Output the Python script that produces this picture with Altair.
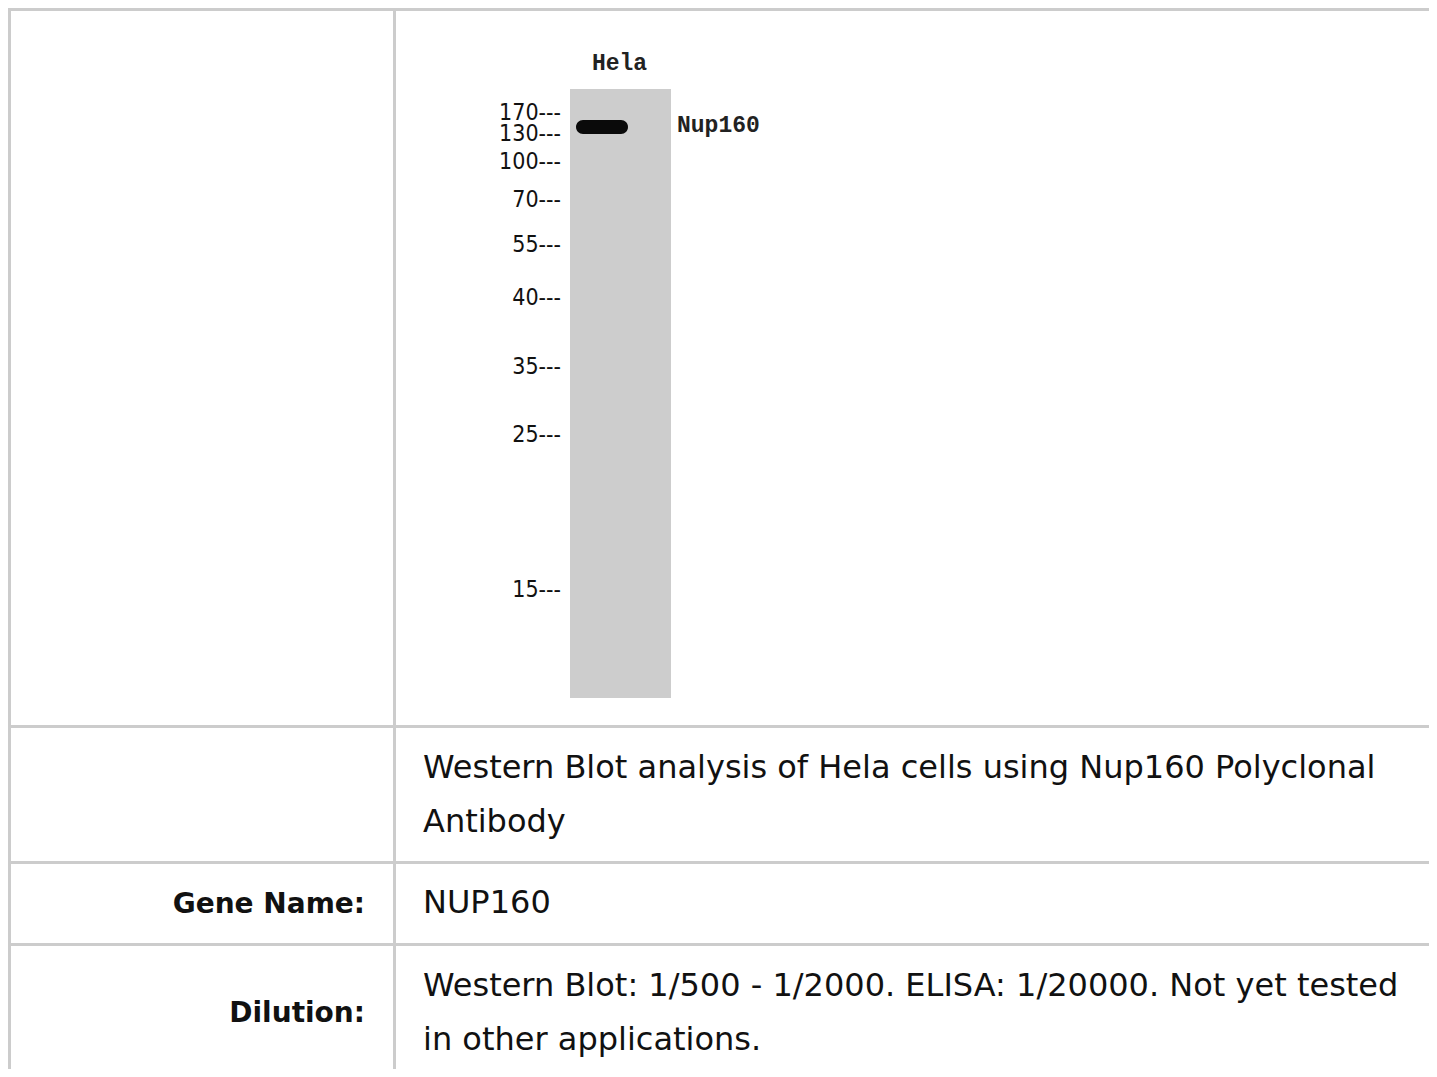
import altair as alt
import pandas as pd

# ---------------- data ----------------
W, H = 1421, 1061          # whole chart (page pixels 8..1429, 8..1069)
X0, X1 = 8, 8 + W
Y0, Y1 = 8, 8 + H

lane_label = ["Hela"]
target_label = ["Nup160"]
marker_kda = ["170", "130", "100", "70", "55", "40", "35", "25", "15"]
marker_pos = [113, 134, 162, 200, 245, 298, 367, 435, 590]   # migration position
band_pos = [127]                                               # Nup160 band

caption_lines = ["Western Blot analysis of Hela cells using Nup160 Polyclonal", "Antibody"]
field_labels = ["Gene Name:", "Dilution:"]
gene_lines = ["NUP160"]
dilution_lines = ["Western Blot: 1/500 - 1/2000. ELISA: 1/20000. Not yet tested",
                  "in other applications."]

# ---------------- layout ----------------
grid_h = [9.5, 726.5, 862.5, 944.5]
grid_v = [9.5, 394.5]
label_right = 365
value_left = 423
lane_x = (570, 671)
lane_y = (89, 698)
band_x = (576, 628)
band_half = 7
marker_right = 561

xs = alt.Scale(domain=[X0, X1], nice=False, zero=False)
ys = alt.Scale(domain=[Y0, Y1], nice=False, zero=False, reverse=True)


def X(f="x"):
    return alt.X(f"{f}:Q", scale=xs, axis=None)


def Y(f="y"):
    return alt.Y(f"{f}:Q", scale=ys, axis=None)


GRID = "#cccccc"

hlines = alt.Chart(pd.DataFrame({"y": grid_h, "x": X0, "x2": X1})).mark_rule(
    color=GRID, strokeWidth=3).encode(x=X(), x2="x2:Q", y=Y())

vlines = alt.Chart(pd.DataFrame({"x": grid_v, "y": Y0, "y2": Y1})).mark_rule(
    color=GRID, strokeWidth=3).encode(x=X(), y=Y(), y2="y2:Q")

lane = alt.Chart(pd.DataFrame({"x": [lane_x[0]], "x2": [lane_x[1]],
                               "y": [lane_y[0]], "y2": [lane_y[1]]})).mark_rect(
    color="#cdcdcd").encode(x=X(), x2="x2:Q", y=Y(), y2="y2:Q")

band_df = pd.DataFrame({"x": [band_x[0]], "x2": [band_x[1]],
                        "y": [band_pos[0] - band_half], "y2": [band_pos[0] + band_half]})
band = alt.Chart(band_df).mark_rect(color="#0a0a0a", cornerRadius=7).encode(
    x=X(), x2="x2:Q", y=Y(), y2="y2:Q")

markers = alt.Chart(pd.DataFrame({"t": [m + "---" for m in marker_kda],
                                  "y": marker_pos, "x": marker_right})).mark_text(
    font="Liberation Sans Narrow, DejaVu Sans Condensed, Liberation Sans",
    fontSize=23, align="right", baseline="middle", color="#111111").encode(
    x=X(), y=Y(), text="t:N")

hela = alt.Chart(pd.DataFrame({"t": lane_label, "x": [(lane_x[0] + lane_x[1]) / 2 - 1],
                               "y": [70]})).mark_text(
    font="Liberation Mono", fontSize=23, fontWeight="bold", align="center",
    baseline="alphabetic", color="#222222").encode(x=X(), y=Y(), text="t:N")

nup = alt.Chart(pd.DataFrame({"t": target_label, "x": [677], "y": [132]})).mark_text(
    font="Liberation Mono", fontSize=23, fontWeight="bold", align="left",
    baseline="alphabetic", color="#222222").encode(x=X(), y=Y(), text="t:N")

BODY = "DejaVu Sans"
caption = alt.Chart(pd.DataFrame({"t": caption_lines, "y": [778, 832],
                                  "x": value_left})).mark_text(
    font=BODY, fontSize=32, align="left", baseline="alphabetic", color="#111111").encode(
    x=X(), y=Y(), text="t:N")

labels = alt.Chart(pd.DataFrame({"t": field_labels, "y": [913, 1022],
                                 "x": label_right})).mark_text(
    font=BODY, fontSize=28, fontWeight="bold", align="right", baseline="alphabetic",
    color="#111111").encode(x=X(), y=Y(), text="t:N")

values = alt.Chart(pd.DataFrame({"t": gene_lines + dilution_lines, "y": [913, 996, 1050],
                                 "x": value_left})).mark_text(
    font=BODY, fontSize=32, align="left", baseline="alphabetic", color="#111111").encode(
    x=X(), y=Y(), text="t:N")

chart = alt.layer(hlines, vlines, lane, band, markers, hela, nup, caption, labels, values).properties(
    width=W, height=H, padding=0, autosize=alt.AutoSizeParams(type="none"),
    background="white").configure_view(stroke=None)

chart.save("out.html", embed_options={"renderer": "svg", "actions": False})
